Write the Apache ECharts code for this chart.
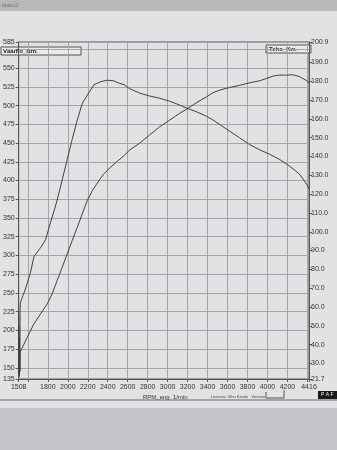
<!DOCTYPE html>
<html lang="fi">
<head>
<meta charset="UTF-8">
<title>Vääntö / Teho</title>
<script src="https://cdn.jsdelivr.net/npm/echarts@6/dist/echarts.min.js"></script>
<style>
  html, body { margin: 0; padding: 0; background: #e3e1e3; }
  #chart { width: 337px; height: 450px; }
</style>
</head>
<body>
<div id="chart"></div>
<script>
// arvot luettu kuvasta (rpm / Nm / kW)
const torqueRpm = [1508, 1509, 1510, 1511, 1512, 1514, 1516, 1518, 1520, 1522, 1525, 1575, 1626, 1660, 1690, 1726, 1777, 1827, 1877, 1928, 1944, 1994, 2044, 2095, 2145, 2195, 2263, 2330, 2396, 2464, 2514, 2565, 2615, 2715, 2816, 2917, 3018, 3118, 3185, 3286, 3387, 3453, 3520, 3621, 3722, 3822, 3923, 4024, 4124, 4225, 4325, 4393, 4416];
const torqueNm  = [222, 150, 205, 168, 140, 190, 150, 170, 145, 228, 237, 255, 277, 298, 304, 310, 321, 344, 366, 392, 401, 428, 455, 481, 503, 514, 528, 532, 534, 533, 530, 528, 523, 517, 513, 510, 506, 501, 497, 492, 486, 481, 475, 466, 457, 448, 441, 435, 428, 419, 408, 395, 389];

const powerRpm = [1508, 1510, 1512, 1514, 1516, 1518, 1520, 1523, 1530, 1592, 1659, 1726, 1793, 1843, 1893, 1944, 1994, 2044, 2095, 2145, 2195, 2246, 2313, 2363, 2431, 2497, 2565, 2615, 2715, 2816, 2917, 3018, 3118, 3185, 3286, 3387, 3453, 3520, 3621, 3722, 3822, 3923, 3990, 4058, 4124, 4191, 4258, 4325, 4393, 4416];
const powerKw  = [30, 24, 33, 23, 36, 26, 34, 36, 37, 43.7, 50.9, 56.2, 61.5, 66.9, 74, 81.1, 88.2, 95.3, 102.4, 109.5, 116.6, 121.9, 127.3, 130.9, 134.4, 137.5, 140.5, 143.3, 146.9, 151.3, 155.7, 159.3, 162.9, 165, 168.5, 171.7, 173.9, 175.3, 176.7, 177.9, 179.2, 180.3, 181.5, 182.8, 183.3, 183.3, 183.5, 182.4, 180.3, 179.2];

const rpmLabels = [1508, 1800, 2000, 2200, 2400, 2600, 2800, 3000, 3200, 3400, 3600, 3800, 4000, 4200, 4416];
const rpmGrid   = [1508, 1600, 1800, 2000, 2200, 2400, 2600, 2800, 3000, 3200, 3400, 3600, 3800, 4000, 4200, 4400, 4416];
const nmLabels  = [135, 150, 175, 200, 225, 250, 275, 300, 325, 350, 375, 400, 425, 450, 475, 500, 525, 550, 585];
const nmGrid    = [135, 150, 175, 200, 225, 250, 275, 300, 325, 350, 375, 400, 425, 450, 475, 500, 525, 550, 575, 585];
const kwLabels  = [21.7, 30, 40, 50, 60, 70, 80, 90, 100, 110, 120, 130, 140, 150, 160, 170, 180, 190, 200.9];

const ink = '#404040';
const gridCol = '#a6a4a8';
const font = 'Liberation Sans, Arial, sans-serif';

const chart = echarts.init(document.getElementById('chart'));
chart.setOption({
  animation: false,
  backgroundColor: '#e3e1e3',
  grid: { left: 18, right: 28, top: 42, bottom: 71, show: true, borderColor: '#555', borderWidth: 1 },
  xAxis: {
    type: 'value', min: 1508, max: 4416,
    axisLine: { show: true, lineStyle: { color: '#555' } },
    axisTick: { show: true, length: 3, customValues: rpmGrid, lineStyle: { color: '#555' } },
    axisLabel: { customValues: rpmLabels, fontSize: 7, fontFamily: font, color: '#333', margin: 5,
      formatter: v => String(v) },
    splitLine: { show: true, lineStyle: { color: gridCol, width: 1 } }
  },
  yAxis: [{
    type: 'value', min: 135, max: 585, position: 'left',
    axisLine: { show: true, lineStyle: { color: '#555' } },
    axisTick: { show: true, length: 3, customValues: nmGrid, lineStyle: { color: '#555' } },
    axisLabel: { customValues: nmLabels, fontSize: 7, fontFamily: font, color: '#333', margin: 4,
      formatter: v => String(v) },
    splitLine: { show: true, lineStyle: { color: gridCol, width: 1 } }
  }, {
    type: 'value', min: 21.7, max: 200.9, position: 'right',
    axisLine: { show: true, lineStyle: { color: '#555' } },
    axisTick: { show: true, length: 3, customValues: kwLabels, lineStyle: { color: '#555' } },
    axisLabel: { customValues: kwLabels, fontSize: 7, fontFamily: font, color: '#333', margin: 2,
      formatter: v => v.toFixed(1) },
    splitLine: { show: false }
  }],
  series: [{
    name: 'Vääntö_Nm.', type: 'line', yAxisIndex: 0, symbol: 'none',
    lineStyle: { color: ink, width: 1 },
    data: torqueRpm.map((r, i) => [r, torqueNm[i]])
  }, {
    name: 'Teho_Kw.', type: 'line', yAxisIndex: 1, symbol: 'none',
    lineStyle: { color: ink, width: 1 },
    data: powerRpm.map((r, i) => [r, powerKw[i]])
  }],
  graphic: [
    { type: 'rect', shape: { x: 0, y: 0, width: 337, height: 11 }, style: { fill: '#b9b7ba' } },
    { type: 'text', x: 2, y: 2, style: { text: 'laatu2', fontSize: 6, fontFamily: font, fill: '#777' } },
    { type: 'rect', shape: { x: 1, y: 47, width: 80, height: 8 }, style: { fill: '#eceaec', stroke: '#555', lineWidth: 1 } },
    { type: 'text', x: 3, y: 48, style: { text: 'Vääntö_Nm.', fontSize: 6, fontWeight: 'bold', fontFamily: font, fill: '#222' } },
    { type: 'rect', shape: { x: 266, y: 45, width: 45, height: 8 }, style: { fill: '#eceaec', stroke: '#555', lineWidth: 1 } },
    { type: 'text', x: 269, y: 46, style: { text: 'Teho_Kw.', fontSize: 6, fontWeight: 'bold', fontFamily: font, fill: '#222' } },
    { type: 'text', x: 143, y: 394, style: { text: 'RPM_eng  1/min', fontSize: 6, fontFamily: font, fill: '#333' } },
    { type: 'text', x: 211, y: 395, style: { text: 'Lisenssi: Vihu Korela   Version', fontSize: 4, fontFamily: font, fill: '#444' } },
    { type: 'polyline', shape: { points: [[266, 392], [266, 398], [284, 398], [284, 390]] }, style: { stroke: '#555', fill: null } },
    { type: 'rect', shape: { x: 318, y: 391, width: 19, height: 8 }, style: { fill: '#1a1a1a' } },
    { type: 'text', x: 321, y: 392, style: { text: 'P A F', fontSize: 5, fontFamily: font, fill: '#eee' } },
    { type: 'line', shape: { x1: 0, y1: 400, x2: 337, y2: 400 }, style: { stroke: '#666', lineWidth: 1 } },
    { type: 'rect', shape: { x: 0, y: 408, width: 337, height: 42 }, style: { fill: '#c6c4c8' } }
  ]
});
</script>
</body>
</html>
